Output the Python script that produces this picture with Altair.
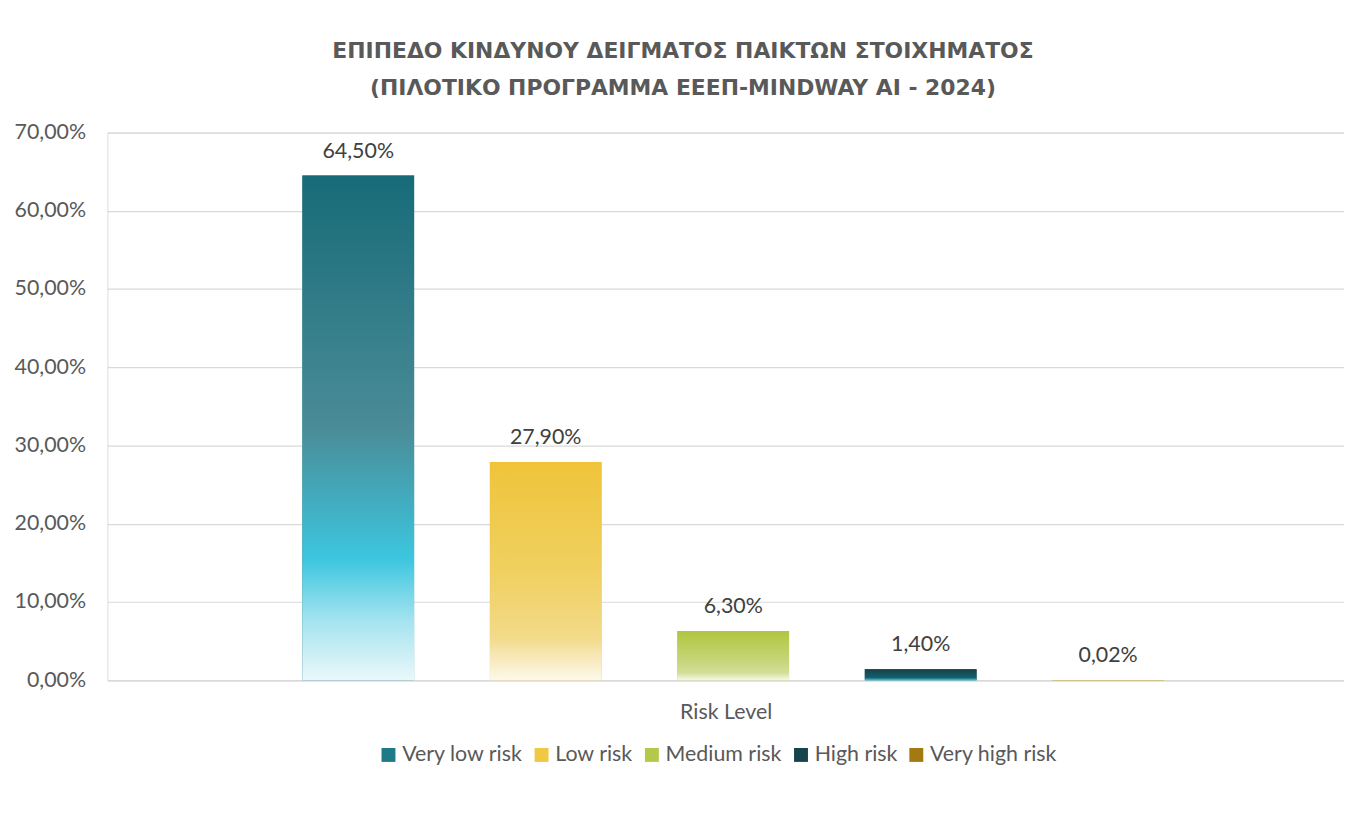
import altair as alt
import pandas as pd

# ---- data ----
series = ["Very low risk", "Low risk", "Medium risk", "High risk", "Very high risk"]
values = [0.645, 0.279, 0.063, 0.014, 0.0002]
y_ticks = [0.0, 0.1, 0.2, 0.3, 0.4, 0.5, 0.6, 0.7]

df = pd.DataFrame({"series": series, "value": values})
df["label"] = [f"{v*100:.2f}%".replace(".", ",") for v in values]

# ---- styles ----
FONT = "Lato"
FS = 21.5
legend_colors = ["#1F7A87", "#F0C843", "#B5C84A", "#17434D", "#A37A12"]

def grad(stops):
    return alt.Gradient(
        gradient="linear", x1=0, y1=0, x2=0, y2=1,
        stops=[alt.GradientStop(offset=o, color=c) for o, c in stops],
    )

gradients = {
    "Very low risk": grad([(0, "#176B78"), (0.5, "#4A8C97"), (0.76, "#3CC6DF"),
                           (0.88, "#A3E3EF"), (1, "#EAF8FB")]),
    "Low risk": grad([(0, "#EFC43A"), (0.5, "#F0D060"), (0.8, "#F2DA88"), (1, "#FDF8EC")]),
    "Medium risk": grad([(0, "#B2C53F"), (0.6, "#C6D679"), (0.85, "#D3DF98"), (1, "#F7F9EC")]),
    "High risk": grad([(0, "#1A3F48"), (0.75, "#11606E"), (1, "#3CC8E0")]),
    "Very high risk": grad([(0, "#A07810"), (1, "#F0C93A")]),
}

x_enc = alt.X(
    "series:N",
    sort=series,
    scale=alt.Scale(paddingInner=0.404, paddingOuter=1.0, align=0.52),
    axis=alt.Axis(
        labels=False, ticks=False, grid=False,
        domainColor="#D9D9D9", domainWidth=1.5,
        title="Risk Level", titleFont=FONT, titleFontSize=FS,
        titleFontWeight="normal", titleColor="#595959", titlePadding=21,
    ),
)
y_enc = alt.Y(
    "value:Q",
    scale=alt.Scale(domain=[0, 0.7], nice=False),
    axis=alt.Axis(
        values=y_ticks, labelExpr="replace(format(datum.value, '.2%'), '.', ',')",
        grid=True, gridColor="#D9D9D9", gridWidth=1.2, domain=False, ticks=False,
        labelFont=FONT, labelFontSize=FS, labelColor="#595959", labelPadding=22,
        title=None,
    ),
)

base = alt.Chart(df)

solid = base.mark_bar().encode(
    x=x_enc, y=y_enc,
    color=alt.Color(
        "series:N", sort=series,
        scale=alt.Scale(domain=series, range=legend_colors),
        legend=alt.Legend(
            title=None, orient="none", legendX=272, legendY=615,
            direction="horizontal",
            symbolType="square", symbolSize=196, symbolStrokeWidth=0,
            labelFont=FONT, labelFontSize=FS, labelColor="#595959",
            columnPadding=8, labelOffset=3,
        ),
    ),
)

layers = [solid]
for s in series:
    layers.append(
        base.transform_filter(alt.datum.series == s)
        .mark_bar(color=gradients[s])
        .encode(x=x_enc, y=y_enc)
    )

text = base.mark_text(
    baseline="bottom", dy=-13, font=FONT, fontSize=FS, color="#404040"
).encode(x=x_enc, y=y_enc, text="label:N")
layers.append(text)

chart = alt.layer(*layers).properties(
    width=1244,
    height=551,
    padding={"left": 6, "top": 30, "right": 0, "bottom": 5},
    title=alt.TitleParams(
        text=["ΕΠΙΠΕΔΟ ΚΙΝΔΥΝΟΥ ΔΕΙΓΜΑΤΟΣ ΠΑΙΚΤΩΝ ΣΤΟΙΧΗΜΑΤΟΣ",
              "(ΠΙΛΟΤΙΚΟ ΠΡΟΓΡΑΜΜΑ ΕΕΕΠ-MINDWAY AI - 2024)"],
        font="DejaVu Sans", fontSize=22, fontWeight="bold", color="#595959",
        lineHeight=37, anchor="middle", dx=-43, offset=22,
    ),
).configure_view(stroke=None).configure(background="white")

chart.save("out.html", embed_options={"renderer": "svg", "actions": False})
